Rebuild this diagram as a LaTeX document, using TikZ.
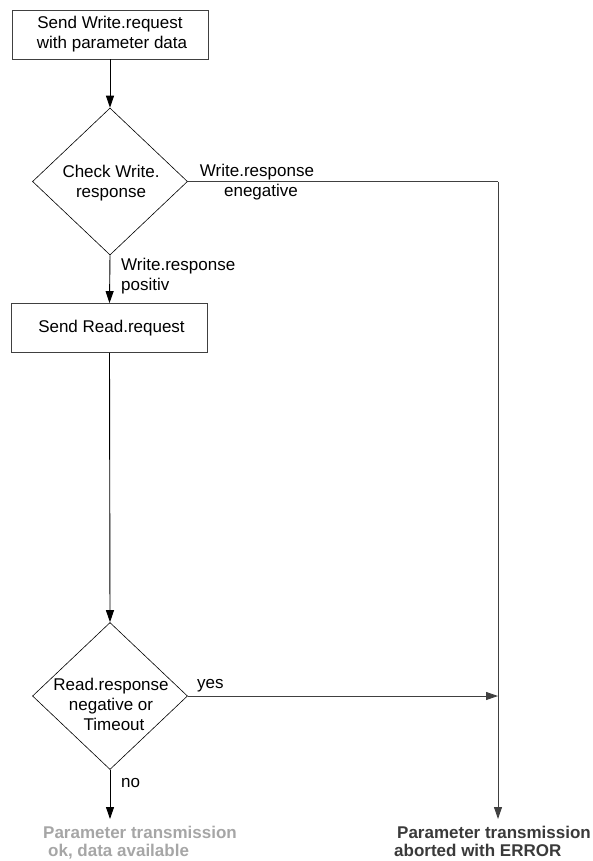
\documentclass[tikz,border=0pt]{standalone}
\usepackage{fontspec}
\setmainfont{Liberation Sans}
\usetikzlibrary{arrows.meta,shapes.geometric}
\definecolor{linegray}{HTML}{404040}
\definecolor{okgray}{HTML}{A6A6A6}
\definecolor{errgray}{HTML}{3A3A3A}
\begin{document}
\begin{tikzpicture}[x=1pt,y=-1pt,
  every node/.style={font=\fontsize{17}{20}\selectfont, inner sep=0pt},
  procbox/.style={draw=linegray, line width=0.9pt, rectangle, minimum width=196pt, minimum height=49pt, align=center},
  decis/.style={draw=black, line width=0.6pt, diamond, minimum width=155pt, minimum height=147pt},
  flow/.style={draw=black, line width=0.9pt, -{Triangle[length=12pt,width=8pt]}},
  errflow/.style={draw=linegray, line width=0.9pt},
  lbl/.style={align=left},
  final/.style={font=\fontsize{17}{18}\selectfont\bfseries, align=left}
]
\useasboundingbox (0,0) rectangle (593,861);
\node[procbox] (b1) at (110,34.5) {Send Write.request\\\hspace*{4pt}with parameter data};
\node[decis] (d1) at (110,181.5) {};
\node[align=center] (d1t) at (111,183) {Check Write.\\response};
\node[procbox] (b2) at (109.5,328) {\hspace*{4pt}Send Read.request};
\node[decis] (d2) at (110,696) {};
\node[align=center] (d2t) at (111,704) {Read.response\\negative or\\\hspace*{6pt}Timeout};
\coordinate (c1) at (498,181.5);
\coordinate (c2) at (498,696);
\node[final, text=okgray, anchor=north west] (ok) at (43,826) {Parameter transmission\\\hspace*{5pt}ok, data available};
\node[final, text=errgray, anchor=north west] (err) at (394,826) {\hspace*{3pt}Parameter transmission\\aborted with ERROR};
\coordinate (okin) at (110,819);
\coordinate (errin) at (498,819);
% connectors
\draw[flow] (b1.south) -- (d1.north);
\draw[flow] (d1.south) -- (b2.north);
\draw[flow] (b2.south) -- (d2.north);
\draw[flow] (d2.south) -- (okin);
\draw[errflow] (d1.east) -- (c1);
\draw[errflow, -{Triangle[length=12pt,width=8pt]}] (c1) -- (errin);
\draw[errflow, -{Triangle[length=12pt,width=8pt]}] (d2.east) -- (c2);
% labels
\node[align=center] (l1) at (257,182) {Write.response\\\hspace*{8pt}enegative};
\node[lbl, anchor=west] (l2) at (121,276) {Write.response\\positiv};
\node[lbl, anchor=west] (l3) at (197,686) {yes};
\node[lbl, anchor=west] (l4) at (121,783) {no};
\end{tikzpicture}
\end{document}
